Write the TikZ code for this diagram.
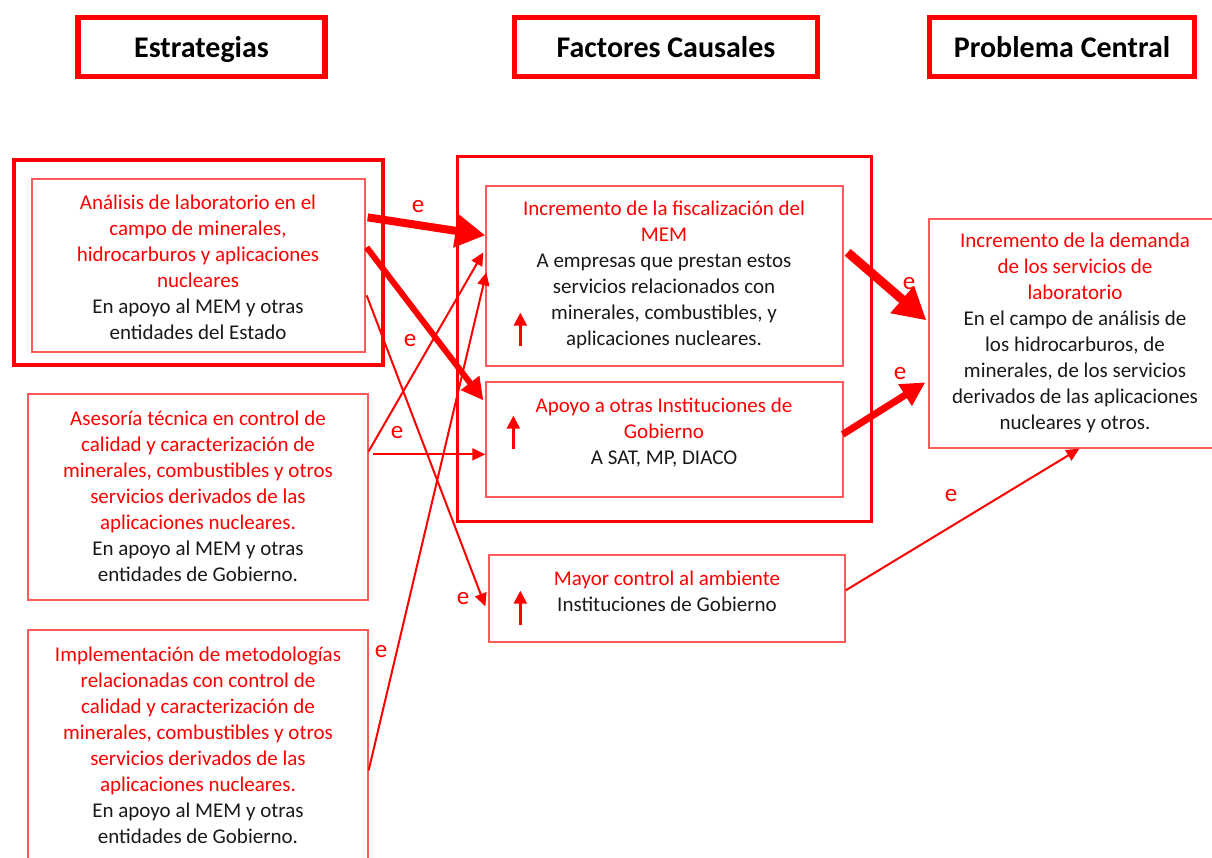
\documentclass[tikz,border=0pt]{standalone}
\usepackage{fontspec}
\setmainfont{Carlito}
\usetikzlibrary{arrows.meta,calc}
\definecolor{rd}{HTML}{FF0000}
\definecolor{thinrd}{HTML}{FF5A5A}
\definecolor{ink}{HTML}{1A1A1A}
\begin{document}
\begin{tikzpicture}[x=1pt,y=-1pt,
  hdrbox/.style={draw=rd, line width=5.5pt, inner sep=0pt, minimum height=59pt,
    text height=24pt, text depth=3pt,
    font=\fontsize{30}{34}\selectfont\bfseries, text=black},
  bigframe/.style={draw=rd, line width=4pt, inner sep=0pt},
  thinbox/.style={draw=thinrd, line width=1.3pt, inner sep=0pt},
  txt/.style={align=center, inner sep=0pt, text=rd, font=\fontsize{21}{26}\selectfont},
  elabel/.style={text=rd, inner sep=0pt, font=\fontsize{25}{28}\selectfont},
  thinarrow/.style={draw=rd, line width=2pt, -{Triangle[length=13pt,width=12pt]}},
  uparrow/.style={draw=rd, line width=2.5pt, -{Triangle[length=13pt,width=13pt]}},
]
\useasboundingbox (0,0) rectangle (1212,857);
\fill[white] (0,0) rectangle (1212,857);

% headers
\node[hdrbox, minimum width=247pt] (h1) at (201.5,47) {Estrategias};
\node[hdrbox, minimum width=303pt] (h2) at (666,47) {Factores Causales};
\node[hdrbox, minimum width=265pt] (h3) at (1062,47) {Problema Central};

% left column
\node[bigframe, minimum width=369pt, minimum height=205pt] (Aout) at (198.5,262.5) {};
\node[thinbox, minimum width=333pt, minimum height=173pt] (Ain) at (198.5,265.5) {};
\node[txt] (At) at (198,267.5) {Análisis de laboratorio en el\\campo de minerales,\\hidrocarburos y aplicaciones\\nucleares\\\textcolor{ink}{En apoyo al MEM y otras}\\\textcolor{ink}{entidades del Estado}};

\node[thinbox, minimum width=340pt, minimum height=206pt] (B) at (198,497) {};
\node[txt] (Bt) at (198,496) {Asesoría técnica en control de\\calidad y caracterización de\\minerales, combustibles y otros\\servicios derivados de las\\aplicaciones nucleares.\\\textcolor{ink}{En apoyo al MEM y otras}\\\textcolor{ink}{entidades de Gobierno.}};

\node[thinbox, minimum width=340pt, minimum height=250pt] (C) at (198,755) {};
\node[txt] (Ct) at (198,745) {Implementación de metodologías\\relacionadas con control de\\calidad y caracterización de\\minerales, combustibles y otros\\servicios derivados de las\\aplicaciones nucleares.\\\textcolor{ink}{En apoyo al MEM y otras}\\\textcolor{ink}{entidades de Gobierno.}};

% middle column
\node[bigframe, line width=3.5pt, minimum width=414pt, minimum height=365pt] (M) at (664.5,339) {};
\node[thinbox, minimum width=357pt, minimum height=180pt] (D) at (664.5,276) {};
\node[txt] (Dt) at (664,275) {Incremento de la fiscalización del\\MEM\\\textcolor{ink}{A empresas que prestan estos}\\\textcolor{ink}{servicios relacionados con}\\\textcolor{ink}{minerales, combustibles, y}\\\textcolor{ink}{aplicaciones nucleares.}};
\node[thinbox, minimum width=357pt, minimum height=115pt] (E) at (664.5,439.5) {};
\node[txt] (Et) at (664,433) {Apoyo a otras Instituciones de\\Gobierno\\\textcolor{ink}{A SAT, MP, DIACO}};
\node[thinbox, minimum width=356pt, minimum height=87pt] (F) at (667,598.5) {};
\node[txt] (Ft) at (667,591.5) {Mayor control al ambiente\\\textcolor{ink}{Instituciones de Gobierno}};

% right column
\node[thinbox, minimum width=292pt, minimum height=229pt] (G) at (1075,333.5) {};
\node[txt] (Gt) at (1075,333) {Incremento de la demanda\\de los servicios de\\laboratorio\\\textcolor{ink}{En el campo de análisis de}\\\textcolor{ink}{los hidrocarburos, de}\\\textcolor{ink}{minerales, de los servicios}\\\textcolor{ink}{derivados de las aplicaciones}\\\textcolor{ink}{nucleares y otros.}};

% small up arrows inside boxes
\draw[uparrow] ($(D.south west)+(35,-21)$) -- ++(0,-33);
\draw[uparrow] ($(E.south west)+(28,-49)$) -- ++(0,-33);
\draw[uparrow] ($(F.south west)+(32,-18)$) -- ++(0,-34);

% connector end points
\coordinate (a1) at ($(Ain.north east)+(2,39)$);
\coordinate (a2) at ($(Ain.north east)+(1,69)$);
\coordinate (a3) at ($(Ain.north east)+(1,117)$);
\coordinate (b1) at ($(B.north east)+(0,58)$);
\coordinate (b2) at ($(B.north east)+(4,61)$);
\coordinate (c1) at ($(C.north east)+(0,141)$);
\coordinate (d1) at ($(D.north west)+(0,50)$);
\coordinate (d2) at ($(D.north west)+(-2,67)$);
\coordinate (d3) at ($(D.north west)+(1,87)$);
\coordinate (d4) at ($(D.north east)+(4,67)$);
\coordinate (e1) at ($(E.north west)+(-2,19)$);
\coordinate (e2) at ($(E.north west)+(0,73)$);
\coordinate (e3) at ($(E.north east)+(-1,53)$);
\coordinate (f1) at ($(F.north west)+(-3,52)$);
\coordinate (f2) at ($(F.north east)+(0,36)$);
\coordinate (g1) at ($(G.north west)+(-2,102)$);
\coordinate (g2) at ($(G.north west)+(-3,164)$);
\coordinate (g3) at ($(G.south west)+(151,0)$);

% connectors
\draw[draw=rd, line width=8pt, -{Triangle[length=30pt,width=32pt]}] (a1) -- (d1);
\draw[draw=rd, line width=6pt, -{Triangle[length=22pt,width=22pt]}] (a2) -- (e1);
\draw[thinarrow] (a3) -- (f1);
\draw[thinarrow] (b1) -- (d2);
\draw[thinarrow] (b2) -- (e2);
\draw[thinarrow] (c1) -- (d3);
\draw[draw=rd, line width=9pt, -{Triangle[length=32pt,width=34pt]}] (d4) -- (g1);
\draw[draw=rd, line width=7pt, -{Triangle[length=24pt,width=24pt]}] (e3) -- (g2);
\draw[thinarrow] (f2) -- (g3);

% labels
\node[elabel] (l1) at (418,207) {e};
\node[elabel] (l2) at (410,341) {e};
\node[elabel] (l3) at (397,433) {e};
\node[elabel] (l4) at (463,599) {e};
\node[elabel] (l5) at (381,652) {e};
\node[elabel] (l6) at (909,284) {e};
\node[elabel] (l7) at (900,374) {e};
\node[elabel] (l8) at (951,496) {e};
\end{tikzpicture}
\end{document}
